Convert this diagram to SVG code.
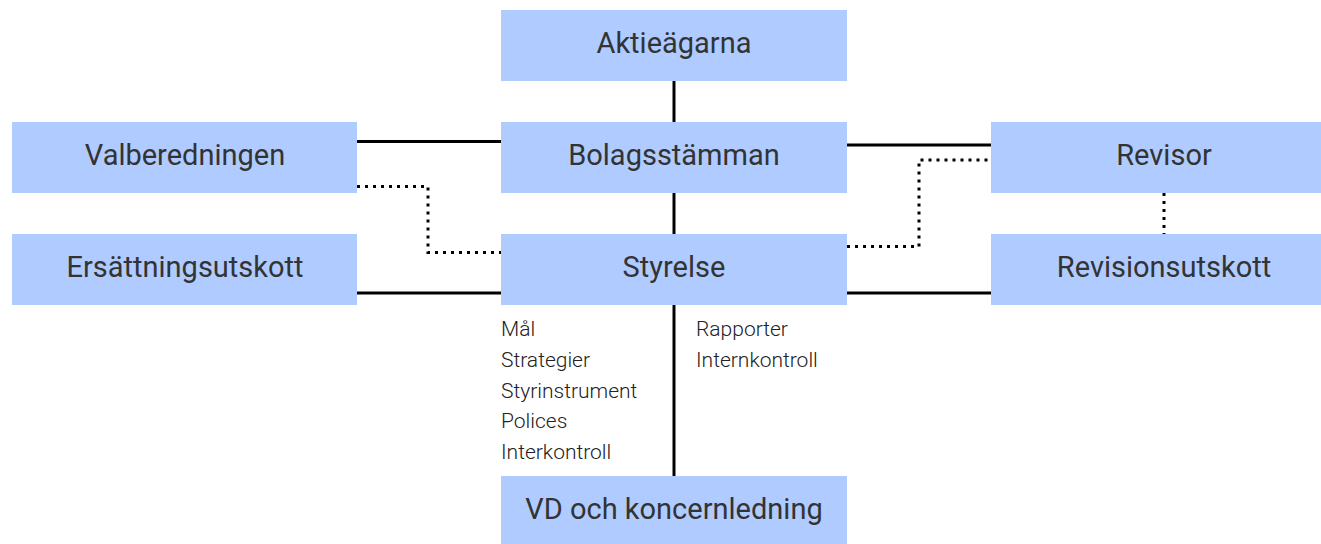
<svg xmlns="http://www.w3.org/2000/svg" width="1321" height="544" viewBox="0 0 1321 544">
<style>
.box{fill:#b0cbff}
.lbl{font-family:Roboto,"Liberation Sans",sans-serif;font-size:29px;fill:#333;text-anchor:middle}
.sm{font-family:Roboto,"Liberation Sans",sans-serif;font-size:21px;font-weight:300;fill:#222}
.solid{stroke:#000;stroke-width:3;fill:none}
.dot{stroke:#000;stroke-width:3;fill:none;stroke-dasharray:3 5}
</style>
<rect width="1321" height="544" fill="#fff"/>
<g id="connectors">
<line class="solid" x1="674" y1="81" x2="674" y2="122"/>
<line class="solid" x1="674" y1="193" x2="674" y2="234"/>
<line class="solid" x1="674" y1="305" x2="674" y2="476"/>
<line class="solid" x1="357" y1="141.5" x2="501" y2="141.5"/>
<line class="solid" x1="847" y1="145" x2="991" y2="145"/>
<line class="solid" x1="357" y1="293" x2="501" y2="293"/>
<line class="solid" x1="847" y1="293" x2="991" y2="293"/>
<polyline class="dot" points="357,186.5 428,186.5 428,252.5 501,252.5"/>
<polyline class="dot" points="847,246.5 919,246.5 919,160 991,160"/>
<line class="dot" x1="1164" y1="193" x2="1164" y2="234"/>
</g>
<g id="aktieagarna"><rect class="box" x="501" y="10" width="346" height="71"/><text class="lbl" x="674" y="53">Aktieägarna</text></g>
<g id="bolagsstamman"><rect class="box" x="501" y="122" width="346" height="71"/><text class="lbl" x="674" y="165">Bolagsstämman</text></g>
<g id="styrelse"><rect class="box" x="501" y="234" width="346" height="71"/><text class="lbl" x="674" y="277">Styrelse</text></g>
<g id="vd"><rect class="box" x="501" y="476" width="346" height="68"/><text class="lbl" x="674" y="519">VD och koncernledning</text></g>
<g id="valberedningen"><rect class="box" x="12" y="122" width="345" height="71"/><text class="lbl" x="185" y="165">Valberedningen</text></g>
<g id="ersattningsutskott"><rect class="box" x="12" y="234" width="345" height="71"/><text class="lbl" x="185" y="277">Ersättningsutskott</text></g>
<g id="revisor"><rect class="box" x="991" y="122" width="330" height="71"/><text class="lbl" x="1164" y="165">Revisor</text></g>
<g id="revisionsutskott"><rect class="box" x="991" y="234" width="330" height="71"/><text class="lbl" x="1164" y="277">Revisionsutskott</text></g>
<g id="labels-left">
<text class="sm" x="501" y="336">Mål</text>
<text class="sm" x="501" y="367">Strategier</text>
<text class="sm" x="501" y="398">Styrinstrument</text>
<text class="sm" x="501" y="428">Polices</text>
<text class="sm" x="501" y="459">Interkontroll</text>
</g>
<g id="labels-right">
<text class="sm" x="696" y="336">Rapporter</text>
<text class="sm" x="696" y="367">Internkontroll</text>
</g>
</svg>
